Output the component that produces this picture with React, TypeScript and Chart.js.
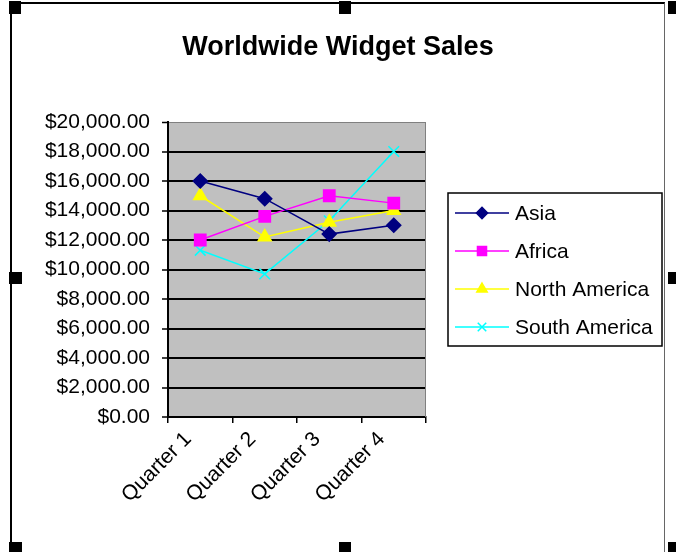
import React, { useEffect, useRef } from 'react';
import { Chart, registerables } from 'chart.js';
import { drawPoint } from 'chart.js/helpers';

Chart.register(...registerables);

const categories = ['Quarter 1', 'Quarter 2', 'Quarter 3', 'Quarter 4'];
const seriesNames = ['Asia', 'Africa', 'North America', 'South America'];
const asia = [16000, 14800, 12400, 13000];
const africa = [12000, 13600, 15000, 14500];
const northAmerica = [15000, 12200, 13200, 14000];
const southAmerica = [11300, 9700, 13300, 18000];
const yMin = 0;
const yMax = 20000;
const yStep = 2000;
const chartTitle = 'Worldwide Widget Sales';

const FONT = "'Liberation Sans', Arial, sans-serif";

const fmtMoney = (v: number) =>
  '$' + Number(v).toLocaleString('en-US', { minimumFractionDigits: 2, maximumFractionDigits: 2 });

const plotBackground = {
  id: 'plotBackground',
  beforeDraw(chart: any) {
    const { ctx, chartArea: a } = chart;
    ctx.save();
    ctx.fillStyle = '#C0C0C0';
    ctx.fillRect(a.left, a.top, a.right - a.left, a.bottom - a.top);
    ctx.restore();
  },
  beforeDatasetsDraw(chart: any) {
    const { ctx, chartArea: a } = chart;
    ctx.save();
    ctx.strokeStyle = '#808080';
    ctx.lineWidth = 1;
    ctx.beginPath();
    ctx.moveTo(a.right - 0.5, a.top);
    ctx.lineTo(a.right - 0.5, a.bottom);
    ctx.stroke();
    ctx.restore();
  },
};

const boxedLegend = {
  id: 'boxedLegend',
  afterDraw(chart: any) {
    const { ctx, chartArea: a } = chart;
    const w = 214;
    const h = 153;
    const left = a.right + 22;
    const top = Math.round((a.top + a.bottom) / 2 - h / 2);
    ctx.save();
    ctx.fillStyle = '#FFFFFF';
    ctx.fillRect(left, top, w, h);
    ctx.strokeStyle = '#000000';
    ctx.lineWidth = 1.5;
    ctx.strokeRect(left, top, w, h);
    chart.data.datasets.forEach((ds: any, i: number) => {
      const y = top + 20 + i * 38;
      ctx.strokeStyle = ds.borderColor;
      ctx.lineWidth = ds.borderWidth;
      ctx.beginPath();
      ctx.moveTo(left + 7, y);
      ctx.lineTo(left + 61, y);
      ctx.stroke();
      ctx.fillStyle = ds.pointBackgroundColor;
      ctx.strokeStyle = ds.pointBorderColor;
      drawPoint(
        ctx,
        { pointStyle: ds.pointStyle, radius: ds.pointRadius * 0.8, rotation: 0, borderWidth: ds.pointBorderWidth },
        left + 34,
        y
      );
      ctx.fillStyle = '#000000';
      ctx.font = `21px ${FONT}`;
      ctx.textAlign = 'left';
      ctx.textBaseline = 'middle';
      ctx.fillText(ds.label, left + 67, y + 1);
    });
    ctx.restore();
  },
};

function makeDataset(label: string, data: number[], color: string, pointStyle: string, radius: number) {
  return {
    label,
    data,
    borderColor: color,
    backgroundColor: color,
    pointBackgroundColor: color,
    pointBorderColor: color,
    pointStyle,
    pointRadius: radius,
    pointBorderWidth: 1.5,
    borderWidth: 1.5,
    tension: 0,
    fill: false,
  };
}

export default function App() {
  const ref = useRef<HTMLCanvasElement | null>(null);

  useEffect(() => {
    document.body.style.margin = '0';
    const canvas = ref.current;
    if (!canvas) return;
    const chart = new Chart(canvas, {
      type: 'line',
      data: {
        labels: categories,
        datasets: [
          makeDataset(seriesNames[0], asia, '#000080', 'rectRot', 7),
          makeDataset(seriesNames[1], africa, '#FF00FF', 'rect', 8),
          makeDataset(seriesNames[2], northAmerica, '#FFFF00', 'triangle', 7.5),
          makeDataset(seriesNames[3], southAmerica, '#00FFFF', 'crossRot', 7.5),
        ],
      },
      options: {
        responsive: false,
        animation: false,
        devicePixelRatio: 1,
        layout: { padding: 0 },
        plugins: {
          legend: { display: false },
          tooltip: { enabled: false },
          title: {
            display: true,
            text: chartTitle,
            color: '#000000',
            font: { family: FONT, size: 27, weight: 'bold' },
            padding: { top: 31, bottom: 58.6 },
          },
        },
        scales: {
          x: {
            type: 'category',
            offset: true,
            grid: {
              display: true,
              offset: true,
              drawOnChartArea: false,
              drawTicks: true,
              tickLength: 6,
              color: '#000000',
              lineWidth: 1.5,
            },
            border: { display: true, color: '#000000', width: 2 },
            ticks: {
              color: '#000000',
              font: { family: FONT, size: 21 },
              minRotation: 45,
              maxRotation: 45,
              padding: 4,
              labelOffset: -12,
              autoSkip: false,
            },
            afterFit: (s: any) => {
              s.height = 135;
            },
          },
          y: {
            type: 'linear',
            min: yMin,
            max: yMax,
            grid: {
              color: (c: any) => (c.tick && c.tick.value === yMax ? '#808080' : '#000000'),
              lineWidth: (c: any) => (c.tick && c.tick.value === yMax ? 1 : 2),
              drawTicks: true,
              tickLength: 6,
              tickColor: '#000000',
              tickWidth: 1.5,
            },
            border: { display: true, color: '#000000', width: 2 },
            ticks: {
              stepSize: yStep,
              color: '#000000',
              font: { family: FONT, size: 21 },
              padding: 12,
              callback: (v: any) => fmtMoney(v),
            },
            afterFit: (s: any) => {
              s.width = 168;
            },
          },
          legendSpace: {
            type: 'linear',
            position: 'right',
            display: true,
            grid: { display: false, drawTicks: false },
            border: { display: false },
            ticks: { display: false },
            afterFit: (s: any) => {
              s.width = 250;
            },
          },
        },
      } as any,
      plugins: [plotBackground, boxedLegend],
    });
    return () => chart.destroy();
  }, []);

  const handle = (left: number, top: number, w = 12, h = 12): React.CSSProperties => ({
    position: 'absolute',
    left,
    top,
    width: w,
    height: h,
    background: '#000',
  });

  return (
    <div style={{ position: 'relative', width: 676, height: 552, overflow: 'hidden', background: '#fff' }}>
      <canvas ref={ref} width={676} height={552} style={{ display: 'block', width: 676, height: 552 }} />
      <div
        style={{
          position: 'absolute',
          left: 10,
          top: 2,
          width: 655,
          height: 600,
          borderTop: '2px solid #000',
          borderLeft: '2px solid #000',
          borderRight: '1px solid #666',
          boxSizing: 'border-box',
          pointerEvents: 'none',
        }}
      />
      <div style={handle(9, 1, 12, 13)} />
      <div style={handle(339, 1, 12, 13)} />
      <div style={handle(668, 1, 10, 13)} />
      <div style={handle(9, 272, 13, 12)} />
      <div style={handle(668, 272, 10, 12)} />
      <div style={handle(9, 542, 13, 12)} />
      <div style={handle(339, 542, 12, 12)} />
      <div style={handle(668, 542, 10, 12)} />
    </div>
  );
}
